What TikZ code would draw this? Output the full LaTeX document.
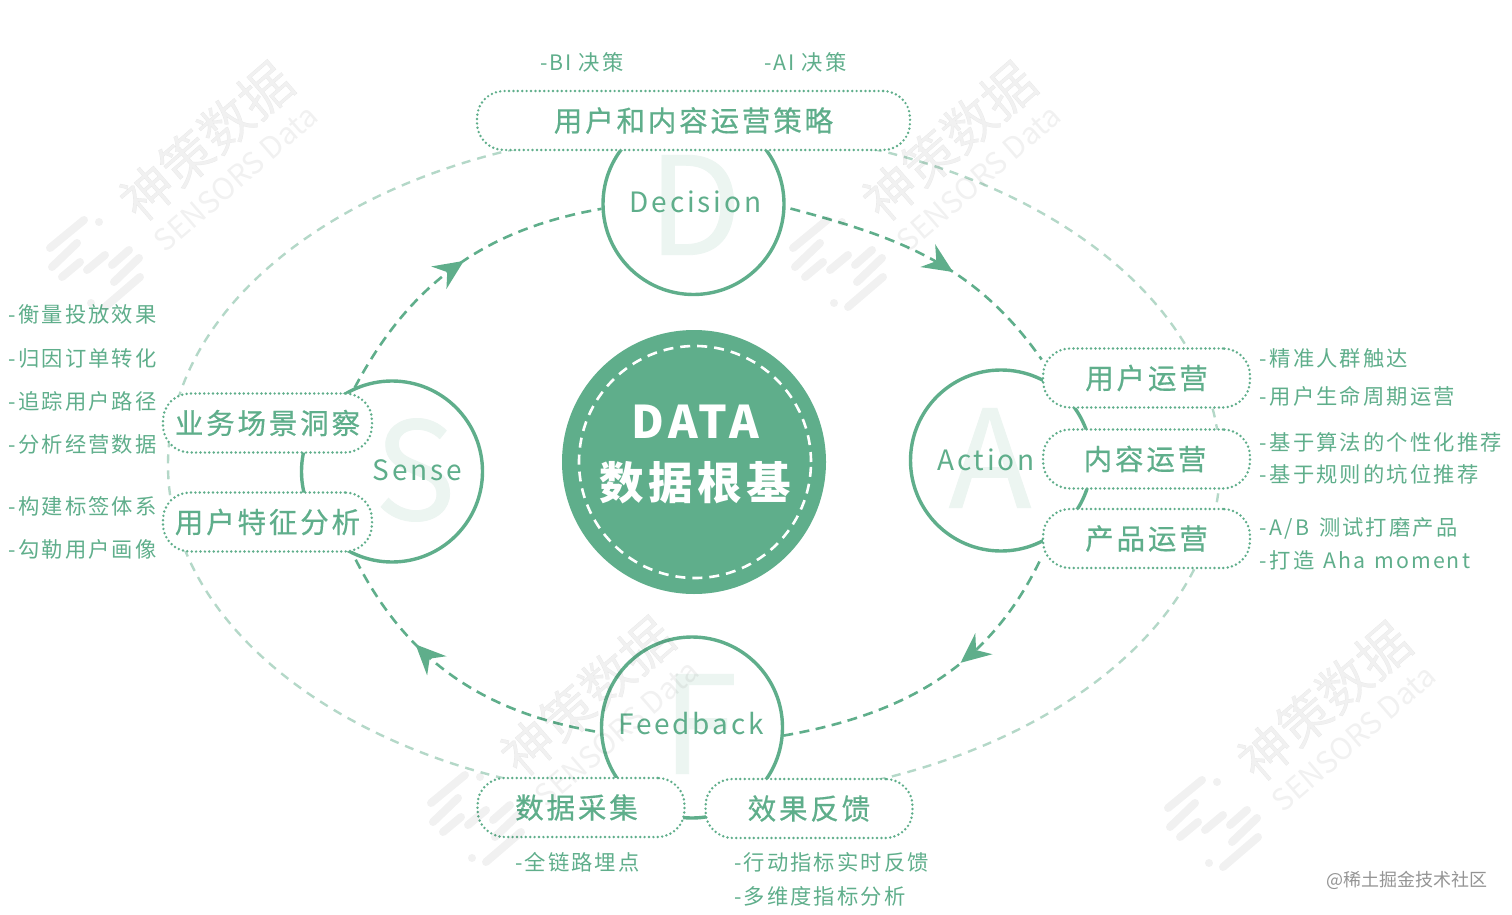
\documentclass[tikz,border=0pt]{standalone}
\usepackage{fontspec}
\usepackage{tikz}
\usetikzlibrary{arrows.meta,shapes.geometric,decorations.markings}
\setmainfont{Noto Sans CJK SC}[LetterSpace=10]
\newfontfamily\medfont[FakeBold=0.55,LetterSpace=10]{Noto Sans CJK SC}
\newfontfamily\markfont[FakeBold=0.5]{Noto Sans CJK SC}
\newfontfamily\plainfont{Noto Sans CJK SC}
\definecolor{dgreen}{HTML}{5FAE8B}
\definecolor{lgreen}{HTML}{B4D8C8}
\definecolor{pgreen}{HTML}{ECF5F1}
\tikzset{
    phase/.style={circle,draw=dgreen,line width=3.4pt,fill=white,minimum size=181pt,inner sep=0pt},
    pill/.style={draw=dgreen,line width=2.7pt,dash pattern=on 0pt off 4.4pt,line cap=round,rounded corners=27pt,
        fill=white,minimum width=207pt,minimum height=59pt,inner sep=0pt,text=dgreen,
        font=\medfont\fontsize{28.5}{30}\selectfont},
    bigletter/.style={text=pgreen,inner sep=0pt,font=\medfont\fontsize{136}{140}\selectfont},
    phaselabel/.style={text=dgreen,inner sep=0pt,font=\fontsize{28}{30}\selectfont},
    sublabel/.style={text=dgreen,anchor=west,inner sep=0pt,yshift=-0.7pt,font=\fontsize{21.3}{24}\selectfont},
    ringline/.style={draw=dgreen,line width=2.6pt,dash pattern=on 10pt off 6.5pt,shorten <=5pt},
    ringarrow/.style={postaction={decorate,decoration={markings,
        mark=at position #1 with {\arrow{Stealth[length=30pt,width=27pt,inset=10pt]}}}}},
    wmtext/.style={text=black,text opacity=0.055,inner sep=0pt,rotate=41},
    wmstroke/.style={draw=black,draw opacity=0.055,line width=8pt,line cap=round},
}
\begin{document}
\begin{tikzpicture}[x=1pt,y=-1pt]
    \useasboundingbox (0,0) rectangle (1512,915);

    % outer ring
    \node[ellipse,draw=lgreen,line width=2.4pt,dash pattern=on 9pt off 7pt,minimum width=1052pt,minimum height=672pt,inner sep=0pt] (outerring) at (694,465) {};

    % core
    \node[circle,fill=dgreen,minimum size=264pt,inner sep=0pt] (core) at (694,462) {};
    \node[circle,draw=white,line width=2.6pt,dash pattern=on 10pt off 7pt,minimum size=232pt,inner sep=0pt] (coreline) at (695,462) {};
    \node[text=white,inner sep=0pt,font=\bfseries\fontsize{45}{48}\selectfont] (coreen) at (695.5,422) {DATA};
    \node[text=white,inner sep=0pt,font=\bfseries\fontsize{44.5}{48}\selectfont] (corecn) at (695,483) {数据根基};

    % four phases
    \node[phase] (decision) at (693.5,204) {};
    \node[phase] (action) at (1001,460.5) {};
    \node[phase] (feedback) at (692,727.5) {};
    \node[phase] (sense) at (392,471.5) {};

    \node[bigletter] (dletter) at (695,205) {D};
    \node[bigletter] (aletter) at (990,458) {A};
    \node[bigletter] (fletter) at (700,724) {F};
    \node[bigletter] (sletter) at (415,470) {S};

    \node[phaselabel] (dlabel) at (695.5,202) {Decision};
    \node[phaselabel] (alabel) at (986,460) {Action};
    \node[phaselabel] (flabel) at (691,724) {Feedback};
    \node[phaselabel] (slabel) at (417.5,470) {Sense};

    % pills
    \node[pill,minimum width=433pt] (strategy) at (693.5,120.5) {用户和内容运营策略};
    \node[pill,minimum width=209pt] (scene) at (267.5,423) {业务场景洞察};
    \node[pill,minimum width=209pt] (userfeat) at (267.5,522) {用户特征分析};
    \node[pill] (useroper) at (1146.5,378) {用户运营};
    \node[pill] (contentoper) at (1146.5,459) {内容运营\kern3pt};
    \node[pill] (prodoper) at (1146.5,538.5) {产品运营};
    \node[pill] (collect) at (581,807.5) {数据采集\kern9pt};
    \node[pill] (effect) at (809,808.5) {效果反馈};

    % inner ring
    \draw[ringline,ringarrow=0.59] (decision.-2) to[out=-15,in=125] (useroper.170);
    \draw[ringline,ringarrow=0.41] (prodoper.190) to[out=-116,in=10] (feedback.-5);
    \draw[ringline,ringarrow=0.65] (feedback.183) to[out=170,in=-64] (userfeat.-20);
    \draw[ringline,ringarrow=0.54] (scene.20) to[out=62,in=190] (decision.183);

    % side notes
    \node[sublabel] (bi) at (540,62) {-BI 决策};
    \node[sublabel] (ai) at (764,62) {-AI 决策};
    \node[sublabel] (s1) at (8.5,314) {-衡量投放效果};
    \node[sublabel] (s2) at (8.5,358) {-归因订单转化};
    \node[sublabel] (s3) at (8.5,401) {-追踪用户路径};
    \node[sublabel] (s4) at (8.5,444) {-分析经营数据};
    \node[sublabel] (s5) at (8.5,506) {-构建标签体系};
    \node[sublabel] (s6) at (8.5,549) {-勾勒用户画像};
    \node[sublabel] (a1) at (1259,358) {-\hspace{3pt}精准人群触达};
    \node[sublabel] (a2) at (1259,396) {-\hspace{3pt}用户生命周期运营};
    \node[sublabel] (a3) at (1259,442) {-\hspace{3pt}基于算法的个性化推荐};
    \node[sublabel] (a4) at (1259,474) {-\hspace{3pt}基于规则的坑位推荐};
    \node[sublabel] (a5) at (1259,528) {-\hspace{3pt}A/B\hspace{3pt} 测试打磨产品};
    \node[sublabel] (a6) at (1259,560) {-\hspace{3pt}打造\hspace{2pt} Aha\hspace{2pt} moment};
    \node[sublabel] (f1) at (515,862) {-全链路埋点};
    \node[sublabel] (f2) at (734,862) {-行动指标实时反馈};
    \node[sublabel] (f3) at (734,896) {-多维度指标分析};

    % watermarks
    \foreach \wx/\wy [count=\n] in {42/40,785/40,423/595,1160/600}{
        \begin{scope}[shift={(\wx,\wy)}]
            \node[wmtext,font=\markfont\fontsize{52}{54}\selectfont] (wmcn\n) at (164,101) {神策数据};
            \node[wmtext,font=\plainfont\fontsize{30}{32}\selectfont] (wmen\n) at (194,138) {SENSORS Data};
            \foreach \ax/\ay/\bx/\by in {8/208/42/180,10/227/35/203,20/237/38/222,45/230/63/215,70/225/87/210,72/242/97/218,63/267/98/237,57/182/57/182,49/263/49/263}{
                \draw[wmstroke] (\ax,\ay) -- (\bx,\by);
            }
        \end{scope}
    }
    \node[text=black!42,anchor=east,inner sep=0pt,font=\plainfont\fontsize{18}{20}\selectfont] (credit) at (1488,880) {@稀土掘金技术社区};
\end{tikzpicture}
\end{document}
